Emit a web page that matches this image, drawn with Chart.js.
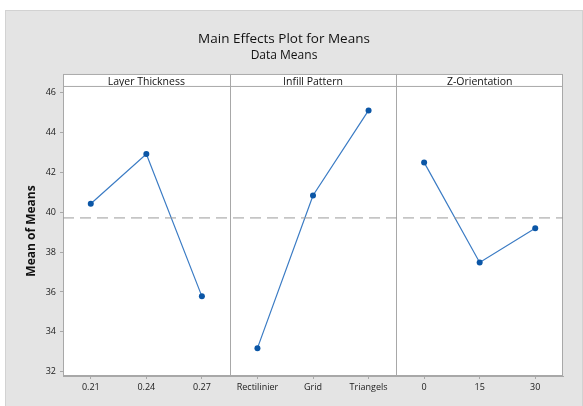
<!DOCTYPE html>
<html>
<head>
<meta charset="utf-8">
<script src="https://cdn.jsdelivr.net/npm/chart.js@4/dist/chart.umd.min.js"></script>
<style>
  html, body { margin: 0; padding: 0; background: #ffffff; }
  #frame { position: absolute; left: 5px; top: 10px; width: 576px; height: 400px;
           background: #e4e4e4; border: 1px solid #d2d2d2; }
  #wrap { position: absolute; left: 0; top: 0; width: 583px; height: 406px; }
</style>
</head>
<body>
<div id="frame"></div>
<div id="wrap"><canvas id="c" width="583" height="406"></canvas></div>
<script>
// ---- data ----
const panels = ['Layer Thickness', 'Infill Pattern', 'Z-Orientation'];
const layerLevels = ['0.21', '0.24', '0.27'];
const infillLevels = ['Rectilinier', 'Grid', 'Triangels'];
const zLevels = ['0', '15', '30'];
const layerMeans = [40.43, 42.93, 35.78];
const infillMeans = [33.18, 40.85, 45.12];
const zMeans = [42.51, 37.48, 39.20];
const grandMean = 39.72;
const yTicks = [32, 34, 36, 38, 40, 42, 44, 46];
const yMin = 31.78, yMax = 46.35;

const categories = [...layerLevels, ...infillLevels, ...zLevels];
const pad = (vals, idx) => categories.map((_, i) => (i >= idx * 3 && i < idx * 3 + 3) ? vals[i - idx * 3] : null);

const lineColor = '#3a7bc4';
const pointColor = '#0b56a6';
const frameColor = '#a8a8a8';
const FONT = "'Open Sans', 'Noto Sans', sans-serif";

const panelPlugin = {
  id: 'panels',
  beforeDraw(chart) {
    const { ctx, chartArea: a, scales } = chart;
    const x = scales.x;
    const stripTop = scales.x2.top;
    ctx.save();
    ctx.fillStyle = '#ffffff';
    ctx.fillRect(a.left, stripTop, a.right - a.left, a.bottom - stripTop);
    ctx.strokeStyle = frameColor;
    ctx.lineWidth = 1;
    ctx.strokeRect(a.left + 0.5, stripTop + 0.5, a.right - a.left - 1, a.bottom - stripTop - 1);
    ctx.beginPath();
    ctx.moveTo(a.left, a.top + 0.5);
    ctx.lineTo(a.right, a.top + 0.5);
    [3, 6].forEach(i => {
      const px = Math.round((x.getPixelForValue(i - 1) + x.getPixelForValue(i)) / 2) + 0.5;
      ctx.moveTo(px, stripTop);
      ctx.lineTo(px, a.bottom);
    });
    ctx.stroke();
    ctx.restore();
  }
};

const seriesDs = (vals, idx) => ({
  type: 'line',
  data: pad(vals, idx),
  xAxisID: 'x',
  yAxisID: 'y',
  borderColor: lineColor,
  borderWidth: 1.2,
  pointBackgroundColor: pointColor,
  pointBorderColor: pointColor,
  pointRadius: 3,
  pointBorderWidth: 0,
  spanGaps: false,
  tension: 0
});

new Chart(document.getElementById('c'), {
  type: 'line',
  data: {
    labels: categories,
    datasets: [
      {
        type: 'line',
        data: [{ x: 0, y: grandMean }, { x: 1, y: grandMean }],
        xAxisID: 'xm',
        yAxisID: 'y',
        borderColor: '#9a9a9a',
        borderWidth: 1,
        borderDash: [11, 6],
        pointRadius: 0,
        tension: 0
      },
      seriesDs(layerMeans, 0),
      seriesDs(infillMeans, 1),
      seriesDs(zMeans, 2)
    ]
  },
  options: {
    responsive: false,
    animation: false,
    layout: { padding: { left: 5, right: 20, top: 10, bottom: 0 } },
    plugins: {
      legend: { display: false },
      tooltip: { enabled: false },
      title: {
        display: true,
        text: 'Main Effects Plot for Means',
        color: '#111',
        font: { family: FONT, size: 13.5, weight: 'normal', lineHeight: 1.3 },
        padding: { top: 20, bottom: 0 }
      },
      subtitle: {
        display: true,
        text: 'Data Means',
        color: '#111',
        font: { family: FONT, size: 12, weight: 'normal', lineHeight: 1.2 },
        padding: { top: 1, bottom: 11 }
      }
    },
    scales: {
      x: {
        type: 'category',
        position: 'bottom',
        offset: true,
        grid: { display: true, drawOnChartArea: false, drawTicks: true, tickLength: 3, color: frameColor, offset: false },
        border: { display: true, color: frameColor },
        ticks: { color: '#1a1a1a', font: { family: FONT, size: 9 }, padding: 3, maxRotation: 0, autoSkip: false },
        afterFit(s) { s.height = 30; }
      },
      x2: {
        type: 'category',
        position: 'top',
        labels: panels,
        offset: true,
        grid: { display: false, drawTicks: false, tickLength: 0 },
        border: { display: false },
        ticks: { color: '#111', font: { family: FONT, size: 10.5, lineHeight: 1.1 }, padding: -1.5, maxRotation: 0 },
        afterFit(s) { s.height = 12; }
      },
      xm: {
        type: 'linear',
        min: 0,
        max: 1,
        display: false
      },
      y: {
        type: 'linear',
        min: yMin,
        max: yMax,
        afterBuildTicks(s) { s.ticks = yTicks.map(v => ({ value: v })); },
        grid: { display: true, drawOnChartArea: false, drawTicks: true, tickLength: 3, color: frameColor },
        border: { display: true, color: frameColor },
        ticks: { color: '#1a1a1a', font: { family: FONT, size: 9 }, padding: 4 },
        title: {
          display: true,
          text: 'Mean of Means',
          color: '#111',
          font: { family: FONT, size: 12, weight: 'bold', lineHeight: 1.2 },
          padding: { top: 19, bottom: 0 }
        },
        afterFit(s) { s.width = 58; }
      }
    }
  },
  plugins: [panelPlugin]
});
</script>
</body>
</html>
